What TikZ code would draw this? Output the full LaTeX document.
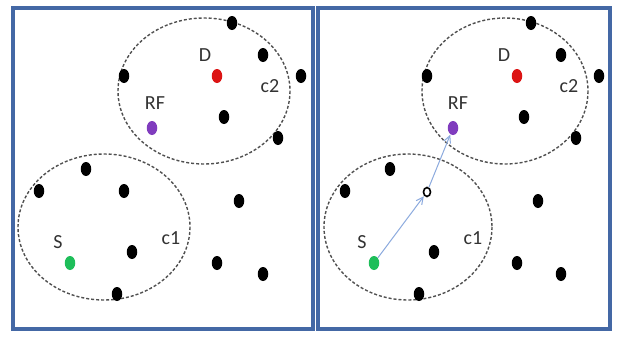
\documentclass[tikz,border=0pt]{standalone}
\usepackage{fontspec}
\setmainfont{Carlito}
\usetikzlibrary{shapes.geometric,arrows.meta}
\definecolor{framec}{RGB}{68,104,165}
\definecolor{dashc}{RGB}{80,80,80}
\definecolor{arrc}{RGB}{140,170,222}
\definecolor{dred}{RGB}{220,20,20}
\definecolor{dpurple}{RGB}{128,60,190}
\definecolor{dgreen}{RGB}{30,190,90}
\tikzset{
  panel/.style={draw=framec,line width=3.2pt},
  cluster/.style={draw=dashc,line width=1.4pt,dash pattern=on 3pt off 2pt},
  dot/.style={ellipse,fill=black,minimum width=10.5pt,minimum height=14pt,inner sep=0pt},
  rdot/.style={dot,fill=dred},
  pdot/.style={dot,fill=dpurple},
  gdot/.style={dot,fill=dgreen},
  ring/.style={ellipse,draw=black,line width=1.6pt,minimum width=7pt,minimum height=9pt,inner sep=0pt},
  lab/.style={font=\fontsize{20}{22}\selectfont,inner sep=0pt,text=black!80},
  hop/.style={draw=arrc,line width=1pt,-{Straight Barb[length=7pt,width=7pt]},shorten >=0.5pt}
}
\begin{document}
\begin{tikzpicture}[x=1pt,y=-1pt]
\useasboundingbox (0,0) rectangle (625,341);
\fill[white] (0,0) rectangle (625,341);
% frames
\draw[panel] (13,8) rectangle (313,329);
\draw[panel] (318,8) rectangle (610,329);
% ---------- left panel ----------
\draw[cluster] (204,91) ellipse [x radius=86, y radius=73];
\draw[cluster] (104,227) ellipse [x radius=86, y radius=73];
\node[dot] (a1) at (232,23) {};
\node[dot] (a2) at (263,55) {};
\node[dot] (a3) at (301,76) {};
\node[dot] (a4) at (124,76) {};
\node[rdot] (aD) at (217,76) {};
\node[dot] (a5) at (224,117) {};
\node[pdot] (aRF) at (152,128) {};
\node[dot] (a6) at (278,138) {};
\node[dot] (a7) at (86,169) {};
\node[dot] (a8) at (39,191) {};
\node[dot] (a9) at (124,191) {};
\node[dot] (a10) at (239,201) {};
\node[dot] (a11) at (132,252) {};
\node[gdot] (aS) at (70,263) {};
\node[dot] (a12) at (217,263) {};
\node[dot] (a13) at (263,274) {};
\node[dot] (a14) at (117,294) {};
\node[lab] (aDl) at (205,55) {D};
\node[lab] (ac2) at (270,86) {c2};
\node[lab] (aRFl) at (155,103) {RF};
\node[lab] (aSl) at (58,242) {S};
\node[lab] (ac1) at (171,238) {c1};
% ---------- right panel ----------
\draw[cluster] (505,91) ellipse [x radius=83, y radius=73];
\draw[cluster] (408,227) ellipse [x radius=84, y radius=73];
\node[dot] (b1) at (531,23) {};
\node[dot] (b2) at (561,55) {};
\node[dot] (b3) at (599,76) {};
\node[dot] (b4) at (427,76) {};
\node[rdot] (bD) at (517,76) {};
\node[dot] (b5) at (524,117) {};
\node[pdot] (bRF) at (453,128) {};
\node[dot] (b6) at (576,138) {};
\node[dot] (b7) at (390,169) {};
\node[dot] (b8) at (345,191) {};
\node[ring] (bH) at (427,192) {};
\node[dot] (b10) at (538,201) {};
\node[dot] (b11) at (434,252) {};
\node[gdot] (bS) at (374,263) {};
\node[dot] (b12) at (517,263) {};
\node[dot] (b13) at (561,274) {};
\node[dot] (b14) at (419,294) {};
\node[lab] (bDl) at (504,55) {D};
\node[lab] (bc2) at (569,86) {c2};
\node[lab] (bRFl) at (458,103) {RF};
\node[lab] (bSl) at (362,242) {S};
\node[lab] (bc1) at (473,238) {c1};
\draw[hop] (bS) -- (bH);
\draw[hop] (bH) -- (bRF);
\end{tikzpicture}
\end{document}
